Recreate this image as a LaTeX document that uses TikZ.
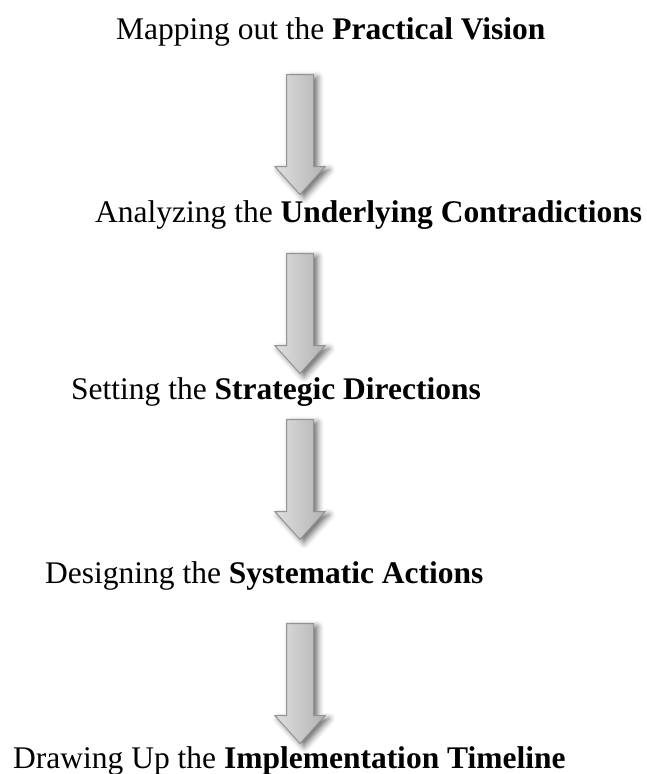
\documentclass[tikz,border=0pt]{standalone}
\usepackage{fontspec}
\setmainfont{Liberation Serif}
\usetikzlibrary{shapes.arrows,shadows.blur}
\tikzset{
    stage/.style = {anchor=base west,
                    inner sep=0pt,
                    text=black,
                    font=\fontsize{31.5}{36}\selectfont},
    down/.style =  {single arrow,
                    shape border rotate=270,
                    anchor=tail,
                    draw=gray!85,
                    line width=1pt,
                    left color=gray!25,
                    right color=gray!60,
                    inner sep=13pt,
                    minimum height=120pt,
                    minimum width=49pt,
                    single arrow head extend=11.5pt,
                    single arrow tip angle=84,
                    blur shadow={shadow xshift=4pt,
                                 shadow yshift=-3pt,
                                 shadow blur radius=6pt,
                                 shadow opacity=60}}}

\begin{document}
\begin{tikzpicture}[x=1pt,y=-1pt]
    \useasboundingbox (0,0) rectangle (647,774);
    % the five stages
    \node[stage]    (vision)    at (116,39)     {Mapping out the \textbf{Practical Vision}};
    \node[stage]    (contra)    at (95,222)     {Analyzing the \textbf{Underlying Contradictions}};
    \node[stage]    (direct)    at (71,399)     {Setting the \textbf{Strategic Directions}};
    \node[stage]    (action)    at (45,583)     {Designing the \textbf{Systematic Actions}};
    \node[stage]    (timeline)  at (13,768)     {Drawing Up the \textbf{Implementation Timeline}};
    % arrows in between
    \node[down]     (a1)        at (300,74)     {};
    \node[down]     (a2)        at (300,253)    {};
    \node[down]     (a3)        at (300,419)    {};
    \node[down]     (a4)        at (300,623)    {};
\end{tikzpicture}
\end{document}
